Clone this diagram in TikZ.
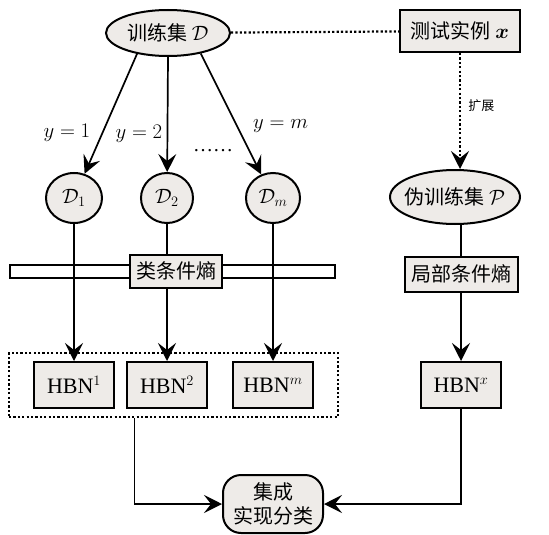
\documentclass[tikz,border=0pt]{standalone}
\usepackage{fontspec}
\usepackage{bm}
\setmainfont{Liberation Serif}
\newfontfamily\cjk{Noto Sans CJK SC}
\usetikzlibrary{shapes.geometric,arrows.meta,fit,backgrounds}

\begin{document}
\begin{tikzpicture}[x=1pt, y=-1pt,
  font=\fontsize{20}{24}\selectfont,
  zh/.style={font=\cjk\fontsize{20}{24}\selectfont},
  setnode/.style={ellipse, draw, line width=2pt, fill=huise, inner xsep=-5pt, inner ysep=0pt},
  boxnode/.style={rectangle, draw, line width=2pt, fill=huise, inner sep=3pt},
  hbnnode/.style={boxnode, minimum width=80, minimum height=46, font=\fontsize{22}{26}\selectfont},
  arr/.style={line width=1.7pt, -{Stealth[length=18pt,width=18pt,inset=7pt]}},
  dotline/.style={line width=2.2pt, dash pattern=on 2.2pt off 2.2pt}]

    \definecolor{huise}{HTML}{EEEBE8}

  \useasboundingbox (0,0) rectangle (549,535);

  % training set and test instance

  \node[setnode, zh, minimum width=124, minimum height=46] (trainset) at (168,33) {训练集\ $\mathcal{D}$};
  \node[boxnode, zh, minimum width=120, minimum height=42] (testx) at (460,31) {测试实例 $\bm{x}$};

  % class subsets and pseudo training set

  \node[setnode, minimum width=56, minimum height=50] (sub1) at (74,198) {$\mathcal{D}_1$};
  \node[setnode, minimum width=52, minimum height=50] (sub2) at (167,198) {$\mathcal{D}_2$};
  \node[setnode, minimum width=54, minimum height=50] (subm) at (273,198) {$\mathcal{D}_m$};
  \node[setnode, zh, minimum width=130, minimum height=54] (pseudo) at (455,197) {伪训练集\ $\mathcal{P}$};
  \node (dots) at (213,151) {\ldots\ldots};

  % conditional entropy

  \node[draw, line width=2pt, minimum width=325, minimum height=13, inner sep=0pt] (classbar) at (172.5,271.5) {};
  \node[boxnode, zh, minimum width=92, minimum height=33] (classent) at (176,271) {类条件熵};
  \node[boxnode, zh, minimum width=113, minimum height=35] (localent) at (461,274) {局部条件熵};

  % networks

  \node[hbnnode] (hbn1) at (74,385) {HBN$^1$};
  \node[hbnnode] (hbn2) at (167,385) {HBN$^2$};
  \node[hbnnode] (hbnm) at (273,385) {HBN$^m$};
  \node[hbnnode] (hbnx) at (461,385) {HBN$^x$};
  \node[draw, dotline, fit=(hbn1)(hbnm), inner xsep=24pt, inner ysep=8pt] (group) {};
  \coordinate (tap) at ([xshift=-39pt]group.south);

  \node[boxnode, zh, rounded corners=18pt, minimum width=100, minimum height=58, align=center] (ensemble) at (273,504) {集成\\实现分类};

  % connections

  \begin{pgfonlayer}{background}
    \draw[dotline] (trainset) -- (testx);
    \draw[dotline, -{Stealth[length=18pt,width=18pt,inset=7pt]}] (testx) -- (testx |- pseudo.north)
      node[pos=.45, right=4pt, font=\cjk\fontsize{13}{15}\selectfont] {扩展};

    \draw[arr] (trainset.214) -- (sub1) node[pos=.66, left=8pt] {$y=1$};
    \draw[arr] (trainset.south) -- (sub2) node[pos=.67, left=1pt] {$y=2$};
    \draw[arr] (trainset.328) -- (subm) node[pos=.6, right=12pt] {$y=m$};

    \draw[arr] (sub1) -- (hbn1);
    \draw[arr] (sub2) -- (hbn2);
    \draw[arr] (subm) -- (hbnm);
    \draw[line width=1.7pt] (pseudo.south -| localent.north) -- (localent.north);
    \draw[arr] (localent) -- (hbnx);

    \draw[arr] (tap) |- (ensemble.west);
    \draw[arr] (hbnx) |- (ensemble.east);
  \end{pgfonlayer}

\end{tikzpicture}
\end{document}
